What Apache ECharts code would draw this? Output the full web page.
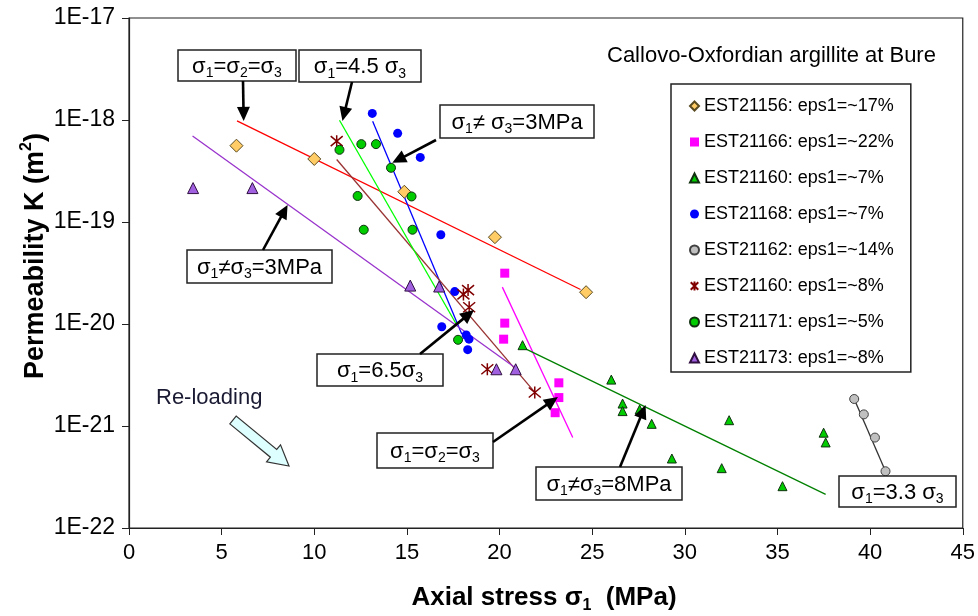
<!DOCTYPE html>
<html>
<head>
<meta charset="utf-8">
<script src="https://cdn.jsdelivr.net/npm/echarts@6/dist/echarts.min.js"></script>
<style>
html,body{margin:0;padding:0;background:#fff;}
#chart{width:978px;height:616px;}
</style>
</head>
<body>
<div id="chart"></div>
<script>
// ---------------- DATA ----------------
// permeability K in m^2 ; axial stress sigma1 in MPa
const K_UNIT = 1e-22;          // plotting unit for the log axis (avoids float rounding on tiny values)
const EXP_OFFSET = -22;        // exponent of K_UNIT

const xMin = 0, xMax = 45, xStep = 5;
const kMin = 1e-22, kMax = 1e-17;

const seriesNames = [
  'EST21156: eps1=~17%',
  'EST21166: eps1=~22%',
  'EST21160: eps1=~7%',
  'EST21168: eps1=~7%',
  'EST21162: eps1=~14%',
  'EST21160: eps1=~8%',
  'EST21171: eps1=~5%',
  'EST21173: eps1=~8%'
];

const est21156 = [[5.8, 5.6e-19], [10.0, 4.15e-19], [14.86, 1.98e-19], [19.75, 7.1e-20], [24.67, 2.05e-20]];
const est21166 = [[20.28, 3.15e-20], [20.28, 1.02e-20], [20.22, 7.1e-21], [23.2, 2.65e-21], [23.2, 1.9e-21], [23.0, 1.35e-21]];
const est21160a = [[21.24, 6.2e-21], [26.03, 2.85e-21], [26.64, 1.66e-21], [26.64, 1.4e-21], [27.56, 1.45e-21], [28.21, 1.05e-21],
                   [29.3, 4.8e-22], [31.99, 3.86e-22], [32.39, 1.14e-21], [35.27, 2.57e-22], [37.49, 8.6e-22], [37.6, 6.9e-22]];
const est21168 = [[13.13, 1.16e-18], [14.5, 7.4e-19], [15.72, 4.3e-19], [16.83, 7.5e-20], [17.58, 2.08e-20],
                  [16.88, 9.4e-21], [18.2, 7.8e-21], [18.35, 7.1e-21], [18.28, 5.6e-21]];
const est21162 = [[39.14, 1.84e-21], [39.66, 1.3e-21], [40.26, 7.7e-22], [40.83, 3.6e-22]];
const est21160b = [[11.21, 6.2e-19], [18.05, 1.95e-20], [18.3, 2.15e-20], [18.36, 1.46e-20], [19.34, 3.6e-21], [21.9, 2.13e-21]];
const est21171 = [[11.36, 5.1e-19], [12.54, 5.8e-19], [13.33, 5.8e-19], [14.14, 3.4e-19], [15.25, 1.78e-19],
                  [12.34, 1.8e-19], [12.67, 8.4e-20], [15.3, 8.4e-20], [17.76, 7.0e-21]];
const est21173 = [[3.46, 2.15e-19], [6.66, 2.15e-19], [15.18, 2.38e-20], [16.74, 2.33e-20], [19.83, 3.6e-21], [20.87, 3.6e-21]];

// trend lines (end points)
const fitRed     = [[5.83, 9.8e-19], [24.37, 2.18e-20]];
const fitMagenta = [[20.15, 2.3e-20], [23.95, 7.7e-22]];
const fitGreen   = [[21.24, 5.9e-21], [37.6, 2.14e-22]];
const fitBlue    = [[13.15, 9.7e-19], [17.96, 8.0e-21]];
const fitGrey    = [[39.14, 1.84e-21], [40.83, 3.6e-22]];
const fitBrown   = [[11.21, 4.1e-19], [21.85, 2.2e-21]];
const fitLime    = [[11.36, 9.95e-19], [17.66, 1.0e-20]];
const fitPurple  = [[3.43, 6.98e-19], [20.81, 3.76e-21]];

// annotation texts and the data points their arrows point to
const noteTexts = ['σ1=σ2=σ3', 'σ1=4.5 σ3', 'σ1≠ σ3=3MPa', 'σ1≠σ3=3MPa', 'σ1=6.5σ3', 'σ1=σ2=σ3', 'σ1≠σ3=8MPa', 'σ1=3.3 σ3'];
const arrowTips = [[6.19, 9.8e-19], [11.52, 9.8e-19], [14.21, 3.8e-19], [8.56, 1.47e-19], [18.62, 1.37e-20], [23.15, 1.92e-21], [27.88, 1.61e-21], null];

const titleText = 'Callovo-Oxfordian argillite at Bure';
const reloadText = 'Re-loading';

// ---------------- STYLE / LAYOUT ----------------
const FONT = '"Liberation Sans", Arial, sans-serif';
const toPt = d => d.map(p => [p[0], p[1] / K_UNIT]);

const markStyles = [
  {symbol: 'diamond', size: 13, color: '#FFCC66', border: '#5a4a20', bw: 1},
  {symbol: 'rect', size: 9, color: '#FF00FF', border: '#FF00FF', bw: 0},
  {symbol: 'triangle', size: 9, color: '#00CC00', border: '#103010', bw: 1},
  {symbol: 'circle', size: 9, color: '#0000FF', border: '#0000FF', bw: 0},
  {symbol: 'circle', size: 9, color: '#C0C0C0', border: '#404040', bw: 1},
  {symbol: 'path://M0,0L10,10M10,0L0,10M5,-1L5,11', size: 12, color: 'rgba(0,0,0,0)', border: '#800000', bw: 1.5},
  {symbol: 'circle', size: 9, color: '#00CC00', border: '#103010', bw: 1},
  {symbol: 'triangle', size: 11, color: '#A060E0', border: '#301040', bw: 1}
];
const scatterData = [est21156, est21166, est21160a, est21168, est21162, est21160b, est21171, est21173];

const fitLines = [
  [fitRed, '#FF0000'], [fitMagenta, '#FF00FF'], [fitGreen, '#008000'], [fitBlue, '#0000FF'],
  [fitGrey, '#333333'], [fitBrown, '#993333'], [fitLime, '#00FF00'], [fitPurple, '#9933CC']
];

const series = [];
fitLines.forEach((f, i) => {
  series.push({
    name: 'fit' + i, type: 'line', data: toPt(f[0]), showSymbol: false, symbol: 'none',
    lineStyle: {color: f[1], width: 1.3}, z: 2, silent: true
  });
});
scatterData.forEach((d, i) => {
  const m = markStyles[i];
  series.push({
    name: seriesNames[i], type: 'scatter', data: toPt(d), symbol: m.symbol, symbolSize: m.size,
    itemStyle: {color: m.color, borderColor: m.border, borderWidth: m.bw, opacity: 1}, z: 3
  });
});

const chart = echarts.init(document.getElementById('chart'), null, {renderer: 'canvas'});
const option = {
  animation: false,
  backgroundColor: '#fff',
  grid: {left: 129, right: 13, top: 18, bottom: 88, show: true, borderColor: '#222', borderWidth: 1.2, backgroundColor: 'transparent'},
  xAxis: {
    type: 'value', min: xMin, max: xMax, interval: xStep,
    axisLine: {lineStyle: {color: '#222', width: 1.2}},
    axisTick: {show: true, inside: false, length: 7, lineStyle: {color: '#222'}},
    splitLine: {show: false},
    axisLabel: {fontFamily: FONT, fontSize: 22, color: '#000', margin: 14}
  },
  yAxis: {
    type: 'log', logBase: 10, min: kMin / K_UNIT, max: kMax / K_UNIT, splitNumber: 5,
    axisLine: {show: true, lineStyle: {color: '#222', width: 1.2}},
    axisTick: {show: true, inside: false, length: 7, lineStyle: {color: '#222'}},
    minorTick: {show: false},
    splitLine: {show: false},
    axisLabel: {fontFamily: FONT, fontSize: 23, color: '#000', margin: 14,
      formatter: v => '1E' + (Math.round(Math.log10(v)) + EXP_OFFSET)}
  },
  legend: {
    data: seriesNames, orient: 'vertical', left: 671, top: 84,
    padding: [13, 17, 5, 18], itemGap: 18, itemWidth: 9, itemHeight: 9,
    backgroundColor: '#fff', borderColor: '#222', borderWidth: 1.5,
    textStyle: {fontFamily: FONT, fontSize: 18, color: '#000'},
    selectedMode: false, z: 20
  },
  series: series
};
chart.setOption(option);

// ---------------- ANNOTATIONS ----------------
const richBase = {
  n: {fontFamily: FONT, fontSize: 22, color: '#000', lineHeight: 28},
  s: {fontFamily: FONT, fontSize: 14, color: '#000', lineHeight: 16, verticalAlign: 'bottom'},
  p: {fontFamily: FONT, fontSize: 14, color: '#000', lineHeight: 16, verticalAlign: 'top'},
  nb: {fontFamily: FONT, fontSize: 26, fontWeight: 'bold', color: '#000', lineHeight: 32},
  sb: {fontFamily: FONT, fontSize: 16, fontWeight: 'bold', color: '#000', lineHeight: 16, verticalAlign: 'bottom'},
  ny: {fontFamily: FONT, fontSize: 27, fontWeight: 'bold', color: '#000', lineHeight: 34},
  py: {fontFamily: FONT, fontSize: 16, fontWeight: 'bold', color: '#000', lineHeight: 16, verticalAlign: 'top'}
};
// turn "σ1=σ2" into rich text with subscripts after σ
function sigmaRich(t) {
  let out = '';
  for (let i = 0; i < t.length; i++) {
    const c = t[i];
    if (/[0-9]/.test(c) && i > 0 && t[i - 1] === 'σ') out += '{s|' + c + '}';
    else out += '{n|' + c + '}';
  }
  return out;
}

const boxes = [
  [178, 50, 118, 31], [299, 50, 122, 32], [440, 105, 154, 33], [187, 250, 145, 33],
  [317, 354, 126, 32], [377, 433, 116, 35], [536, 467, 146, 33], [839, 476, 117, 31]
];
const arrowTails = [[243, 81], [352, 82], [436, 140], [263, 250], [420, 354], [493, 442], [620, 467], null];

const graphics = [];
function arrow(tail, tip) {
  const headLen = 14, headW = 6.5;
  const dx = tip[0] - tail[0], dy = tip[1] - tail[1], L = Math.hypot(dx, dy);
  const ux = dx / L, uy = dy / L, nx = -uy, ny = ux;
  const bx = tip[0] - ux * headLen, by = tip[1] - uy * headLen;
  graphics.push({type: 'line', z: 50, shape: {x1: tail[0], y1: tail[1], x2: bx + ux * 2, y2: by + uy * 2},
    style: {stroke: '#000', lineWidth: 2.6}});
  graphics.push({type: 'polygon', z: 50, shape: {points: [[tip[0], tip[1]], [bx + nx * headW, by + ny * headW], [bx - nx * headW, by - ny * headW]]},
    style: {fill: '#000'}});
}

boxes.forEach((b, i) => {
  graphics.push({type: 'rect', z: 40, shape: {x: b[0], y: b[1], width: b[2], height: b[3]},
    style: {fill: '#fff', stroke: '#222', lineWidth: 1.5}});
  graphics.push({type: 'text', z: 41, style: {x: b[0] + b[2] / 2, y: b[1] + b[3] / 2 + 1, align: 'center', verticalAlign: 'middle',
    text: sigmaRich(noteTexts[i]), rich: richBase}});
  if (arrowTips[i]) {
    const tip = chart.convertToPixel({gridIndex: 0}, [arrowTips[i][0], arrowTips[i][1] / K_UNIT]);
    arrow(arrowTails[i], tip);
  }
});

// title inside plot
graphics.push({type: 'text', z: 30, style: {x: 607, y: 56, align: 'left', verticalAlign: 'middle',
  text: titleText, fontFamily: FONT, fontSize: 22, fill: '#000'}});
// re-loading text and hollow arrow
graphics.push({type: 'text', z: 30, style: {x: 156, y: 398, align: 'left', verticalAlign: 'middle',
  text: reloadText, fontFamily: FONT, fontSize: 22, fill: '#1a1a33'}});
(function () {
  const tail = [233, 420], tip = [289, 466];
  const dx = tip[0] - tail[0], dy = tip[1] - tail[1], L = Math.hypot(dx, dy);
  const ux = dx / L, uy = dy / L, nx = -uy, ny = ux;
  const sw = 5, hw = 11, hl = 20;
  const nk = [tip[0] - ux * hl, tip[1] - uy * hl];
  const pts = [
    [tail[0] + nx * sw, tail[1] + ny * sw], [nk[0] + nx * sw, nk[1] + ny * sw], [nk[0] + nx * hw, nk[1] + ny * hw],
    tip, [nk[0] - nx * hw, nk[1] - ny * hw], [nk[0] - nx * sw, nk[1] - ny * sw], [tail[0] - nx * sw, tail[1] - ny * sw]
  ];
  graphics.push({type: 'polygon', z: 30, shape: {points: pts}, style: {fill: '#DDFFFF', stroke: '#333', lineWidth: 1.2}});
})();

// axis titles
graphics.push({type: 'text', z: 30, style: {x: 544, y: 598, align: 'center', verticalAlign: 'middle',
  text: '{nb|Axial stress σ}{sb|1}{nb|  (MPa)}', rich: richBase}});
graphics.push({type: 'text', z: 30, rotation: Math.PI / 2, x: 36, y: 256, style: {x: 0, y: 0, align: 'center', verticalAlign: 'middle',
  text: '{ny|Permeability K (m}{py|2}{ny|)}', rich: richBase}});

chart.setOption({graphic: {elements: graphics}});
</script>
</body>
</html>
